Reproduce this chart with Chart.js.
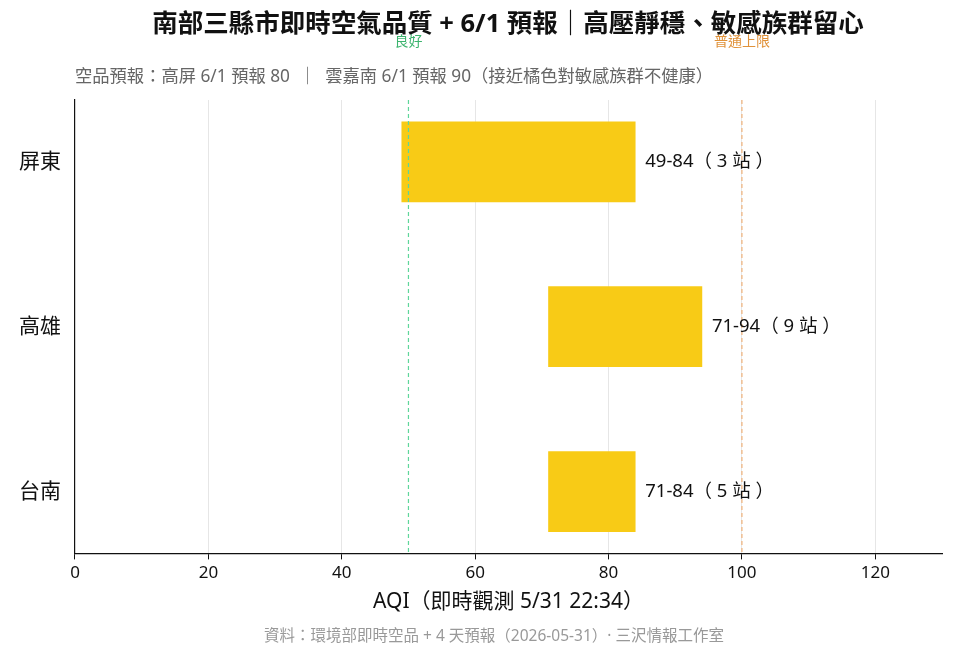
<!DOCTYPE html>
<html><head><meta charset="utf-8">
<script src="https://cdn.jsdelivr.net/npm/chart.js@4/dist/chart.umd.min.js"></script>
<style>html,body{margin:0;padding:0;background:#fff}#w{width:956px;height:660px}</style>
</head><body><div id="w"><canvas id="c"></canvas></div>
<script>
const categories = ['屏東','高雄','台南'];
const lows = [49,71,71];
const highs = [84,94,84];
const stations = [3,9,5];
const xTicks = [0,20,40,60,80,100,120];
const refLines = [{v:50,label:'良好',color:'#5fd69a',text:'#3cb46e'},{v:100,label:'普通上限',color:'#f0b27a',text:'#e0923a'}];
const FONT = '"Noto Sans","Noto Sans CJK TC",sans-serif';

const deco = {
  id:'deco',
  afterDatasetsDraw(chart){
    const {ctx, chartArea:a, scales:{x,y}} = chart;
    ctx.save();
    refLines.forEach(r=>{
      const px = x.getPixelForValue(r.v);
      ctx.strokeStyle=r.color; ctx.lineWidth=1.2; ctx.setLineDash([4,3]);
      ctx.beginPath(); ctx.moveTo(px,a.top); ctx.lineTo(px,a.bottom); ctx.stroke();
      ctx.setLineDash([]);
      ctx.fillStyle=r.text; ctx.font='14px '+FONT; ctx.textAlign='center'; ctx.textBaseline='middle';
      ctx.fillText(r.label,px,42);
    });
    ctx.fillStyle='#111'; ctx.font='18.5px '+FONT; ctx.textAlign='left'; ctx.textBaseline='middle';
    categories.forEach((c,i)=>{
      ctx.fillText(lows[i]+'-'+highs[i]+'（ '+stations[i]+' 站 ）', x.getPixelForValue(highs[i])+10, y.getPixelForValue(i));
    });
    ctx.textAlign='center';
    ctx.font='bold 25.5px '+FONT; ctx.fillText('南部三縣市即時空氣品質 + 6/1 預報｜高壓靜穩、敏感族群留心', 508, 25);
    ctx.textAlign='left'; ctx.fillStyle='#666'; ctx.font='17.3px '+FONT;
    ctx.fillText('空品預報：高屏 6/1 預報 80  ｜  雲嘉南 6/1 預報 90（接近橘色對敏感族群不健康）', 75, 77);
    ctx.textAlign='center'; ctx.fillStyle='#999'; ctx.font='15.5px '+FONT;
    ctx.fillText('資料：環境部即時空品 + 4 天預報（2026-05-31）· 三沢情報工作室', 494, 637);
    ctx.restore();
  }
};

new Chart(document.getElementById('c'), {
  type:'bar',
  data:{datasets:[{data:categories.map((c,i)=>({x:[lows[i],highs[i]],y:i})), backgroundColor:'#f8cb16', borderWidth:0, barThickness:80, borderSkipped:false}]},
  options:{
    indexAxis:'y', responsive:true, maintainAspectRatio:false, animation:false,
    layout:{padding:{top:100,left:11,right:14,bottom:41}},
    plugins:{legend:{display:false},tooltip:{enabled:false}},
    scales:{
      x:{type:'linear',min:0,max:130,
        afterBuildTicks(s){s.ticks=xTicks.map(v=>({value:v}));},
        ticks:{color:'#111',font:{size:17,family:FONT},padding:4},
        grid:{color:'#e6e6e6',drawTicks:true,tickLength:6,tickColor:'#111'},
        border:{color:'#111',width:1.2},
        title:{display:true,text:'AQI（即時觀測 5/31 22:34）',color:'#111',font:{size:21,family:FONT},padding:{top:2}}},
      y:{type:'linear',min:-0.375,max:2.375,reverse:true,offset:false,
        afterBuildTicks(s){s.ticks=categories.map((c,i)=>({value:i}));},
        ticks:{callback:v=>categories[v],color:'#111',font:{size:21,family:FONT},padding:8},
        grid:{display:false,offset:false,drawTicks:true,tickLength:6,tickColor:'#111'},
        border:{color:'#111',width:1.2}}
    }
  },
  plugins:[deco]
});
</script></body></html>
